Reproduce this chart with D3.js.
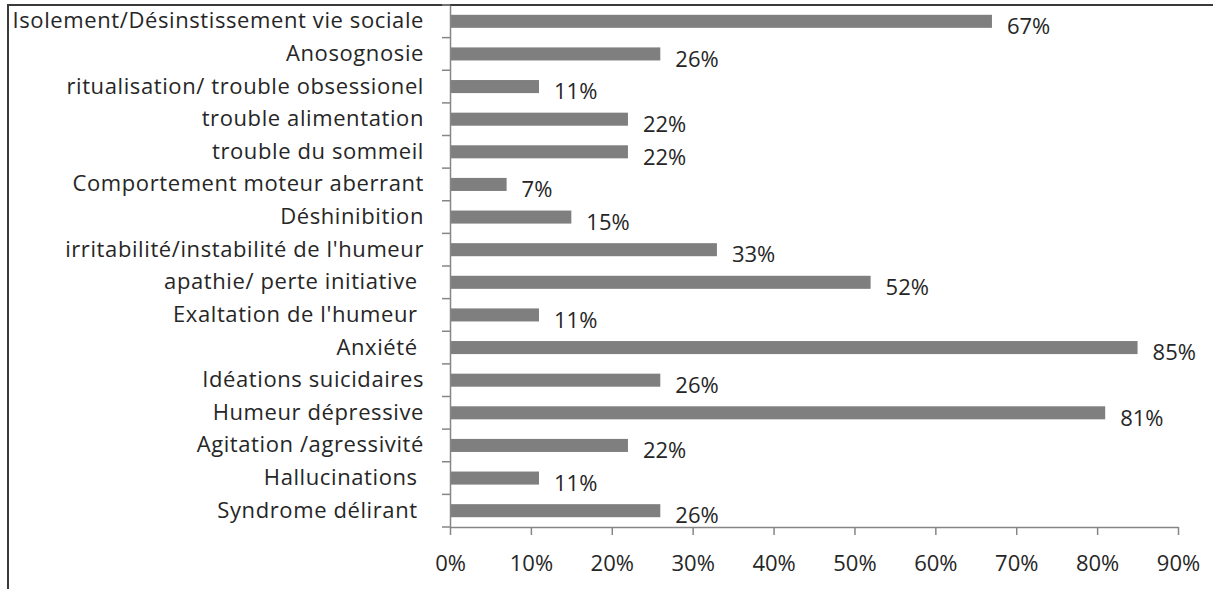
<!DOCTYPE html>
<html><head><meta charset="utf-8">
<script src="https://cdn.jsdelivr.net/npm/d3@7"></script>
<style>body{margin:0;background:#fff}svg{display:block}text{font-family:"Open Sans",sans-serif;fill:#262626;white-space:pre}</style>
</head><body><svg id="c" width="1213" height="589"></svg>
<script>
const categories = ["Isolement/Désinstissement vie sociale","Anosognosie","ritualisation/ trouble obsessionel","trouble alimentation","trouble du sommeil","Comportement moteur aberrant","Déshinibition","irritabilité/instabilité de l'humeur","apathie/ perte initiative ","Exaltation de l'humeur ","Anxiété ","Idéations suicidaires","Humeur dépressive","Agitation /agressivité","Hallucinations ","Syndrome délirant "];
const values = [67,26,11,22,22,7,15,33,52,11,85,26,81,22,11,26];
const xTicks = [0,10,20,30,40,50,60,70,80,90];

const FONT = "'Open Sans',sans-serif";
const FS = 22;
const svg = d3.select("#c");
const x = d3.scaleLinear().domain([0,90]).range([450,1178]);
const y = d3.scaleBand().domain(categories).range([5,527]).paddingInner(0.6).paddingOuter(0.3);
const band = d3.scaleBand().domain(categories).range([5,527]);

// border
svg.append("path").attr("d","M8,589V5H1213").attr("fill","none").attr("stroke","#3a3a3a").attr("stroke-width",2);

// bars
svg.selectAll("rect.bar").data(values).join("rect")
  .attr("x",x(0)).attr("y",(d,i)=>y(categories[i]))
  .attr("width",d=>x(d)-x(0)).attr("height",y.bandwidth())
  .attr("fill","#7f7f7f");

// value labels
svg.selectAll("text.val").data(values).join("text")
  .attr("x",d=>x(d)+15).attr("y",(d,i)=>y(categories[i])+y.bandwidth()/2+5)
  .attr("dy","0.35em").attr("font-size",FS).text(d=>d+"%");

// y axis
const ya = svg.append("g").attr("transform","translate(450,0)")
  .call(d3.axisLeft(band).tickSize(0).tickFormat(d=>d).tickPadding(26));
ya.select(".domain").attr("stroke","#868686").attr("stroke-width",1.5);
ya.selectAll("text").attr("font-size",FS).attr("fill","#262626").style("font-family",FONT).style("letter-spacing","0.6px");
// category boundary ticks
svg.append("g").selectAll("line").data(d3.range(categories.length+1)).join("line")
  .attr("x1",442).attr("x2",450)
  .attr("y1",i=>5+i*band.step()).attr("y2",i=>5+i*band.step())
  .attr("stroke","#868686").attr("stroke-width",1.5);

// x axis
const xa = svg.append("g").attr("transform","translate(0,527)")
  .call(d3.axisBottom(x).tickValues(xTicks).tickFormat(d=>d+"%").tickSize(8).tickSizeOuter(0).tickPadding(20));
xa.select(".domain").attr("stroke","#868686").attr("stroke-width",1.5);
xa.selectAll("line").attr("stroke","#868686").attr("stroke-width",1.5);
xa.selectAll("text").attr("font-size",FS).attr("fill","#262626").style("font-family",FONT);
</script></body></html>
